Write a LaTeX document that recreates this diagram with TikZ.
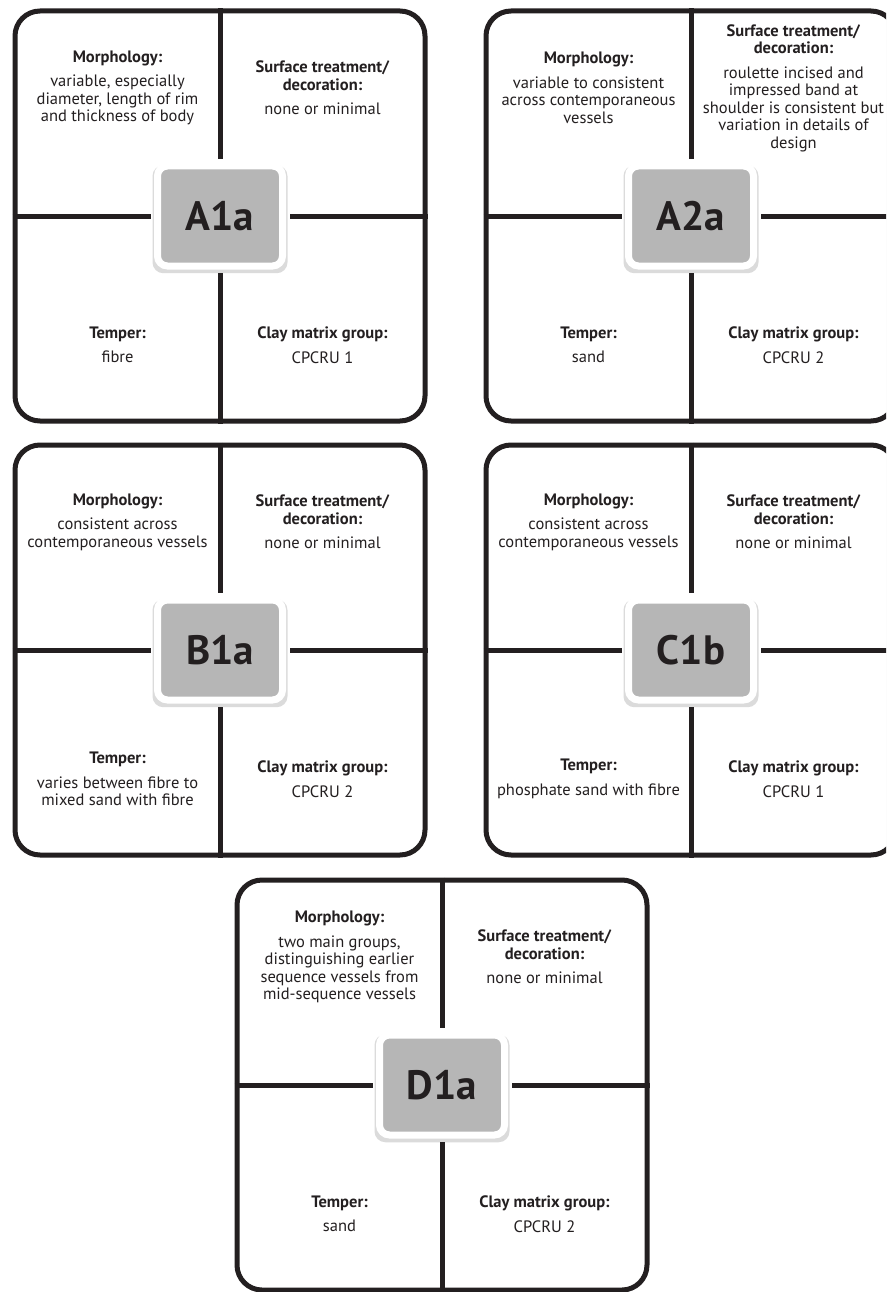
\documentclass[tikz,border=0pt]{standalone}
\usepackage{fontspec}
\setmainfont{PT Sans}
\usetikzlibrary{shadows}

\definecolor{ink}{RGB}{35,31,32}
\definecolor{codegray}{RGB}{182,182,182}

\begin{document}
\begin{tikzpicture}[
  x=1pt, y=-1pt,
  panel/.style={draw=ink, line width=5pt, rounded corners=25pt, fill=white,
                minimum width=410pt, minimum height=410pt, inner sep=0pt,
                drop shadow={shadow xshift=1pt, shadow yshift=-2pt, opacity=.2}},
  code/.style={draw=white, line width=7pt, fill=codegray, rounded corners=10pt,
               minimum width=125pt, minimum height=100pt, inner sep=0pt, text=ink,
               font=\fontsize{41}{44}\selectfont\bfseries,
               drop shadow={shadow xshift=0pt, shadow yshift=-3pt, shadow scale=1.08,
                            opacity=.28}},
  divider/.style={draw=ink, line width=5pt, shorten >=3.5pt},
  field/.style={align=center, inner sep=0pt, text=ink,
                font=\fontsize{16.5}{17.5}\selectfont},
]
\useasboundingbox (0,0) rectangle (886,1292);
\clip (0,0) rectangle (886,1292);

% ---- A1a ---------------------------------------------------------------
\begin{scope}[shift={(220,216)}]
\node[panel] (a1a) at (0,0) {};
\node[code] (a1a-code) at (0,0) {A1a};
\draw[divider] (a1a.north) -- (a1a-code.north);
\draw[divider] (a1a.south) -- (a1a-code.south);
\draw[divider] (a1a.west)  -- (a1a-code.west);
\draw[divider] (a1a.east)  -- (a1a-code.east);
\node[field] (a1a-morph) at (-102.5,-128) {\textbf{Morphology:}\\[7pt]variable, especially\\diameter, length of rim\\and thickness of body};
\node[field] (a1a-surf) at (102.5,-128) {\textbf{Surface treatment/}\\\textbf{decoration:}\\[7pt]none or minimal};
\node[field] (a1a-temper) at (-102.5,129) {\textbf{Temper:}\\[7pt]fibre};
\node[field] (a1a-clay) at (102.5,129) {\textbf{Clay matrix group:}\\[7pt]CPCRU 1};
\end{scope}

% ---- A2a ---------------------------------------------------------------
\begin{scope}[shift={(691,216)}]
\node[panel] (a2a) at (0,0) {};
\node[code] (a2a-code) at (0,0) {A2a};
\draw[divider] (a2a.north) -- (a2a-code.north);
\draw[divider] (a2a.south) -- (a2a-code.south);
\draw[divider] (a2a.west)  -- (a2a-code.west);
\draw[divider] (a2a.east)  -- (a2a-code.east);
\node[field] (a2a-morph) at (-102.5,-128) {\textbf{Morphology:}\\[7pt]variable to consistent\\across contemporaneous\\vessels};
\node[field] (a2a-surf) at (102.5,-128) {\textbf{Surface treatment/}\\\textbf{decoration:}\\[7pt]roulette incised and\\impressed band at\\shoulder is consistent but\\variation in details of\\design};
\node[field] (a2a-temper) at (-102.5,129) {\textbf{Temper:}\\[7pt]sand};
\node[field] (a2a-clay) at (102.5,129) {\textbf{Clay matrix group:}\\[7pt]CPCRU 2};
\end{scope}

% ---- B1a ---------------------------------------------------------------
\begin{scope}[shift={(220,650)}]
\node[panel] (b1a) at (0,0) {};
\node[code] (b1a-code) at (0,0) {B1a};
\draw[divider] (b1a.north) -- (b1a-code.north);
\draw[divider] (b1a.south) -- (b1a-code.south);
\draw[divider] (b1a.west)  -- (b1a-code.west);
\draw[divider] (b1a.east)  -- (b1a-code.east);
\node[field] (b1a-morph) at (-102.5,-128) {\textbf{Morphology:}\\[7pt]consistent across\\contemporaneous vessels};
\node[field] (b1a-surf) at (102.5,-128) {\textbf{Surface treatment/}\\\textbf{decoration:}\\[7pt]none or minimal};
\node[field] (b1a-temper) at (-102.5,129) {\textbf{Temper:}\\[7pt]varies between fibre to\\mixed sand with fibre};
\node[field] (b1a-clay) at (102.5,129) {\textbf{Clay matrix group:}\\[7pt]CPCRU 2};
\end{scope}

% ---- C1b ---------------------------------------------------------------
\begin{scope}[shift={(691,650)}]
\node[panel] (c1b) at (0,0) {};
\node[code] (c1b-code) at (0,0) {C1b};
\draw[divider] (c1b.north) -- (c1b-code.north);
\draw[divider] (c1b.south) -- (c1b-code.south);
\draw[divider] (c1b.west)  -- (c1b-code.west);
\draw[divider] (c1b.east)  -- (c1b-code.east);
\node[field] (c1b-morph) at (-102.5,-128) {\textbf{Morphology:}\\[7pt]consistent across\\contemporaneous vessels};
\node[field] (c1b-surf) at (102.5,-128) {\textbf{Surface treatment/}\\\textbf{decoration:}\\[7pt]none or minimal};
\node[field] (c1b-temper) at (-102.5,129) {\textbf{Temper:}\\[7pt]phosphate sand with fibre};
\node[field] (c1b-clay) at (102.5,129) {\textbf{Clay matrix group:}\\[7pt]CPCRU 1};
\end{scope}

% ---- D1a ---------------------------------------------------------------
\begin{scope}[shift={(442,1085)}]
\node[panel] (d1a) at (0,0) {};
\node[code] (d1a-code) at (0,0) {D1a};
\draw[divider] (d1a.north) -- (d1a-code.north);
\draw[divider] (d1a.south) -- (d1a-code.south);
\draw[divider] (d1a.west)  -- (d1a-code.west);
\draw[divider] (d1a.east)  -- (d1a-code.east);
\node[field] (d1a-morph) at (-102.5,-128) {\textbf{Morphology:}\\[7pt]two main groups,\\distinguishing earlier\\sequence vessels from\\mid-sequence vessels};
\node[field] (d1a-surf) at (102.5,-128) {\textbf{Surface treatment/}\\\textbf{decoration:}\\[7pt]none or minimal};
\node[field] (d1a-temper) at (-102.5,129) {\textbf{Temper:}\\[7pt]sand};
\node[field] (d1a-clay) at (102.5,129) {\textbf{Clay matrix group:}\\[7pt]CPCRU 2};
\end{scope}

\end{tikzpicture}
\end{document}
